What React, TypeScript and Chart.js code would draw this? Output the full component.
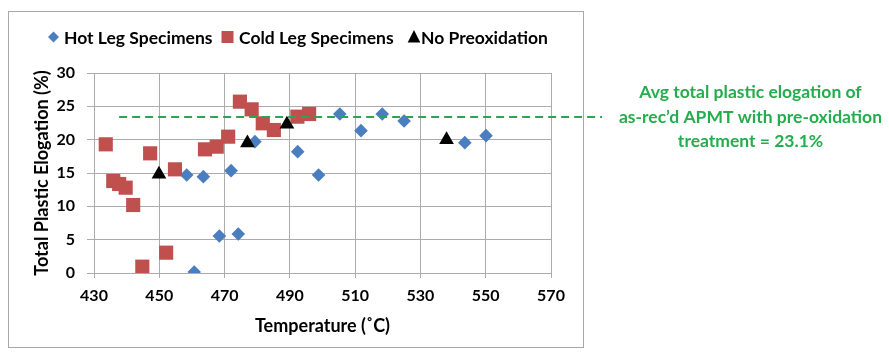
import React, { useEffect, useRef } from 'react';
import { Chart, registerables } from 'chart.js';

Chart.register(...registerables);

// ---- data ----
const hotLegTemps = [458.4, 463.5, 460.7, 468.4, 472.0, 474.2, 479.3, 492.4, 498.8, 505.3, 511.8, 518.3, 525.0, 543.6, 550.1];
const hotLegElong = [14.7, 14.45, 0.15, 5.55, 15.35, 5.85, 19.7, 18.2, 14.7, 23.85, 21.35, 23.85, 22.8, 19.55, 20.6];

const coldLegTemps = [433.6, 435.9, 437.7, 439.7, 442.0, 444.8, 447.2, 452.1, 454.8, 464.0, 467.6, 471.1, 474.7, 478.3, 481.7, 485.1, 492.3, 495.9];
const coldLegElong = [19.3, 13.8, 13.35, 12.8, 10.2, 0.95, 17.95, 3.05, 15.55, 18.55, 18.95, 20.45, 25.7, 24.55, 22.45, 21.45, 23.45, 23.85];

const noPreoxTemps = [449.9, 477.0, 489.1, 538.0];
const noPreoxElong = [14.8, 19.5, 22.3, 20.0];

const seriesNames = ['Hot Leg Specimens', 'Cold Leg Specimens', 'No Preoxidation'];

const avgLineFrom = 437.7;
const avgLineValue = 23.4;
const annotationLines = [
  'Avg total plastic elogation of',
  'as-rec\u2019d APMT with pre-oxidation',
  'treatment = 23.1%',
];

const xMin = 430;
const xMax = 570;
const xStep = 20;
const yMin = 0;
const yMax = 30;
const yStep = 5;

const xTitle = 'Temperature (\u02DAC)';
const yTitle = 'Total Plastic Elogation (%)';

// ---- styles ----
const FONT = 'Lato, "Open Sans", sans-serif';
const BLUE = '#4a7ebf';
const RED = '#c0504d';
const BLACK = '#000000';
const GREEN_LINE = '#2aa552';
const GREEN_TEXT = '#23ad4c';
const GRID = '#ababab';

const toPts = (xs: number[], ys: number[]) => xs.map((x, i) => ({ x, y: ys[i] }));

function drawMarker(ctx: CanvasRenderingContext2D, kind: string, x: number, y: number, s: number, color: string) {
  ctx.save();
  ctx.fillStyle = color;
  ctx.beginPath();
  if (kind === 'diamond') {
    ctx.moveTo(x - s, y);
    ctx.lineTo(x, y - s);
    ctx.lineTo(x + s, y);
    ctx.lineTo(x, y + s);
  } else if (kind === 'square') {
    ctx.rect(x - s, y - s, 2 * s, 2 * s);
  } else {
    ctx.moveTo(x, y - s);
    ctx.lineTo(x + s * 0.9, y + s * 0.8);
    ctx.lineTo(x - s * 0.9, y + s * 0.8);
  }
  ctx.closePath();
  ctx.fill();
  ctx.restore();
}

const decorPlugin = {
  id: 'decor',
  beforeDraw(chart: any) {
    const ctx: CanvasRenderingContext2D = chart.ctx;
    ctx.save();
    ctx.fillStyle = '#ffffff';
    ctx.fillRect(0, 0, chart.width, chart.height);
    ctx.strokeStyle = '#a8a8a8';
    ctx.lineWidth = 1;
    ctx.strokeRect(0.5, 3.5, 575, 336);
    ctx.restore();
  },
  afterDraw(chart: any) {
    const ctx: CanvasRenderingContext2D = chart.ctx;
    const xs = chart.scales.x;
    const ys = chart.scales.y;

    // legend
    ctx.save();
    ctx.font = `bold 17.5px ${FONT}`;
    ctx.fillStyle = '#000';
    ctx.textBaseline = 'middle';
    ctx.textAlign = 'left';
    const ly = 29;
    const items = [
      { kind: 'diamond', color: BLUE, mx: 45.5, tx: 56, s: 5.5 },
      { kind: 'square', color: RED, mx: 219.5, tx: 231, s: 6 },
      { kind: 'triangle', color: BLACK, mx: 406, tx: 413, s: 7 },
    ];
    items.forEach((it, i) => {
      drawMarker(ctx, it.kind, it.mx, ly, it.s, it.color);
      ctx.fillText(seriesNames[i], it.tx, ly + 1);
    });
    ctx.restore();

    // average dashed line
    const yPix = ys.getPixelForValue(avgLineValue);
    ctx.save();
    ctx.strokeStyle = GREEN_LINE;
    ctx.lineWidth = 2;
    ctx.setLineDash([8, 5]);
    ctx.beginPath();
    ctx.moveTo(xs.getPixelForValue(avgLineFrom), yPix);
    ctx.lineTo(594, yPix);
    ctx.stroke();
    ctx.restore();

    // annotation text
    ctx.save();
    ctx.font = `bold 17.5px ${FONT}`;
    ctx.fillStyle = GREEN_TEXT;
    ctx.textAlign = 'center';
    ctx.textBaseline = 'middle';
    annotationLines.forEach((t, i) => {
      ctx.fillText(t, 742.5, yPix - 24.5 + i * 24.5);
    });
    ctx.restore();
  },
};

export default function App() {
  const ref = useRef<HTMLCanvasElement | null>(null);

  useEffect(() => {
    let chart: any = null;
    let cancelled = false;
    const build = () => {
      if (cancelled || !ref.current) return;
      const tickFont = { family: FONT, size: 16, weight: 'bold' as const };
      chart = new Chart(ref.current, {
        type: 'scatter',
        data: {
          datasets: [
            {
              label: seriesNames[0],
              data: toPts(hotLegTemps, hotLegElong),
              pointStyle: 'rectRot',
              pointRadius: 6.8,
              backgroundColor: BLUE,
              borderColor: BLUE,
              borderWidth: 0,
              order: 2,
            },
            {
              label: seriesNames[1],
              data: toPts(coldLegTemps, coldLegElong),
              pointStyle: 'rect',
              pointRadius: 10,
              backgroundColor: RED,
              borderColor: RED,
              borderWidth: 0,
              order: 1,
            },
            {
              label: seriesNames[2],
              data: toPts(noPreoxTemps, noPreoxElong),
              pointStyle: 'triangle',
              pointRadius: 8.5,
              backgroundColor: BLACK,
              borderColor: BLACK,
              borderWidth: 0,
              order: 0,
            },
          ],
        },
        options: {
          responsive: false,
          animation: false,
          devicePixelRatio: 1,
          layout: { padding: { left: 0, right: 330, top: 65, bottom: 0 } },
          plugins: {
            legend: { display: false },
            tooltip: { enabled: false },
            title: { display: false },
          },
          scales: {
            x: {
              type: 'linear',
              min: xMin,
              max: xMax,
              ticks: { stepSize: xStep, font: tickFont, color: '#000', padding: 8 },
              grid: { color: GRID, tickLength: 5, lineWidth: 1 },
              border: { color: GRID },
              title: {
                display: true,
                text: xTitle,
                font: { family: FONT, size: 18, weight: 'bold' },
                color: '#000',
                padding: { top: 0, bottom: 15 },
              },
              afterFit: (s: any) => {
                s.height = 79;
              },
            },
            y: {
              type: 'linear',
              min: yMin,
              max: yMax,
              ticks: { stepSize: yStep, font: tickFont, color: '#000', padding: 12 },
              grid: { color: GRID, tickLength: 7, lineWidth: 1 },
              border: { color: GRID },
              title: {
                display: true,
                text: yTitle,
                font: { family: FONT, size: 18, weight: 'bold' },
                color: '#000',
                padding: { top: 23, bottom: 0 },
              },
              afterFit: (s: any) => {
                s.width = 86;
              },
            },
          },
        },
        plugins: [decorPlugin],
      } as any);
    };
    const fonts = (document as any).fonts;
    if (fonts && fonts.load) {
      Promise.all([fonts.load(`bold 15px Lato`), fonts.load(`bold 18px Lato`)])
        .catch(() => null)
        .then(build);
    } else {
      build();
    }
    return () => {
      cancelled = true;
      if (chart) chart.destroy();
    };
  }, []);

  return (
    <div style={{ width: 873, height: 344 }}>
      <canvas ref={ref} width={873} height={344} style={{ display: 'block' }} />
    </div>
  );
}
